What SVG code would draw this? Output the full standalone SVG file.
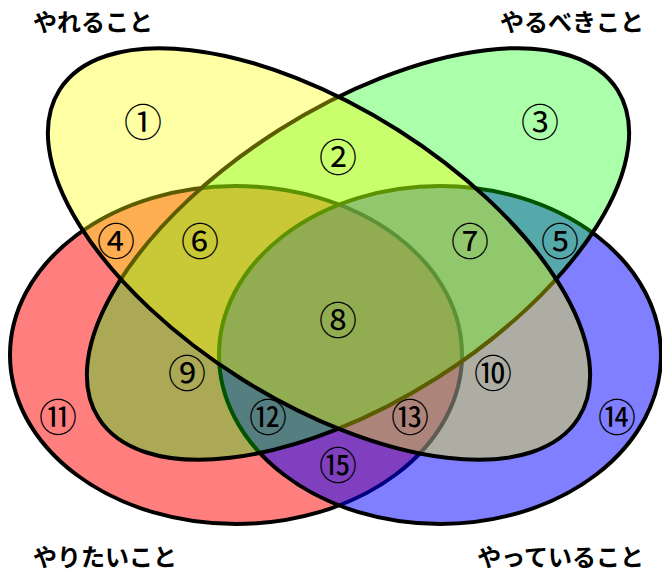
<svg xmlns="http://www.w3.org/2000/svg" width="662" height="572" viewBox="0 0 662 572">
<style>
.set{stroke:#000;stroke-width:4}
.title{font-family:"Noto Sans CJK JP","Noto Sans",sans-serif;font-weight:bold;font-size:24px;fill:#000}
.num{font-family:"Noto Sans CJK JP","Noto Sans",sans-serif;font-size:38px;fill:#000;text-anchor:middle;dominant-baseline:central}
</style>
<rect width="662" height="572" fill="#fff"/>
<g id="sets">
<g id="red"><ellipse class="set" cx="236" cy="355" rx="226" ry="169" fill="#ff0000" fill-opacity="0.5"/></g>
<g id="blue"><ellipse class="set" cx="440" cy="355" rx="221" ry="169" fill="#0000ff" fill-opacity="0.5"/></g>
<g id="green"><ellipse class="set" cx="0" cy="0" rx="307" ry="147" transform="translate(358 254) rotate(-32.3)" fill="#00ff00" fill-opacity="0.33"/></g>
<g id="yellow"><ellipse class="set" cx="0" cy="0" rx="307" ry="147" transform="translate(319 254) rotate(32.3)" fill="#ffff00" fill-opacity="0.36"/></g>
</g>
<g id="connectors"></g>
<g id="titles">
<text class="title" x="33" y="31">やれること</text>
<text class="title" x="644" y="31" text-anchor="end">やるべきこと</text>
<text class="title" x="33" y="566">やりたいこと</text>
<text class="title" x="644" y="566" text-anchor="end">やっていること</text>
</g>
<g id="labels">
<text class="num" x="143" y="119">①</text>
<text class="num" x="338" y="154">②</text>
<text class="num" x="540" y="119">③</text>
<text class="num" x="116" y="238">④</text>
<text class="num" x="560" y="238">⑤</text>
<text class="num" x="200" y="238">⑥</text>
<text class="num" x="470" y="238">⑦</text>
<text class="num" x="338" y="317">⑧</text>
<text class="num" x="187" y="370">⑨</text>
<text class="num" x="493" y="370">⑩</text>
<text class="num" x="58" y="414">⑪</text>
<text class="num" x="268" y="414">⑫</text>
<text class="num" x="410" y="414">⑬</text>
<text class="num" x="617" y="414">⑭</text>
<text class="num" x="338" y="462">⑮</text>
</g>
</svg>
